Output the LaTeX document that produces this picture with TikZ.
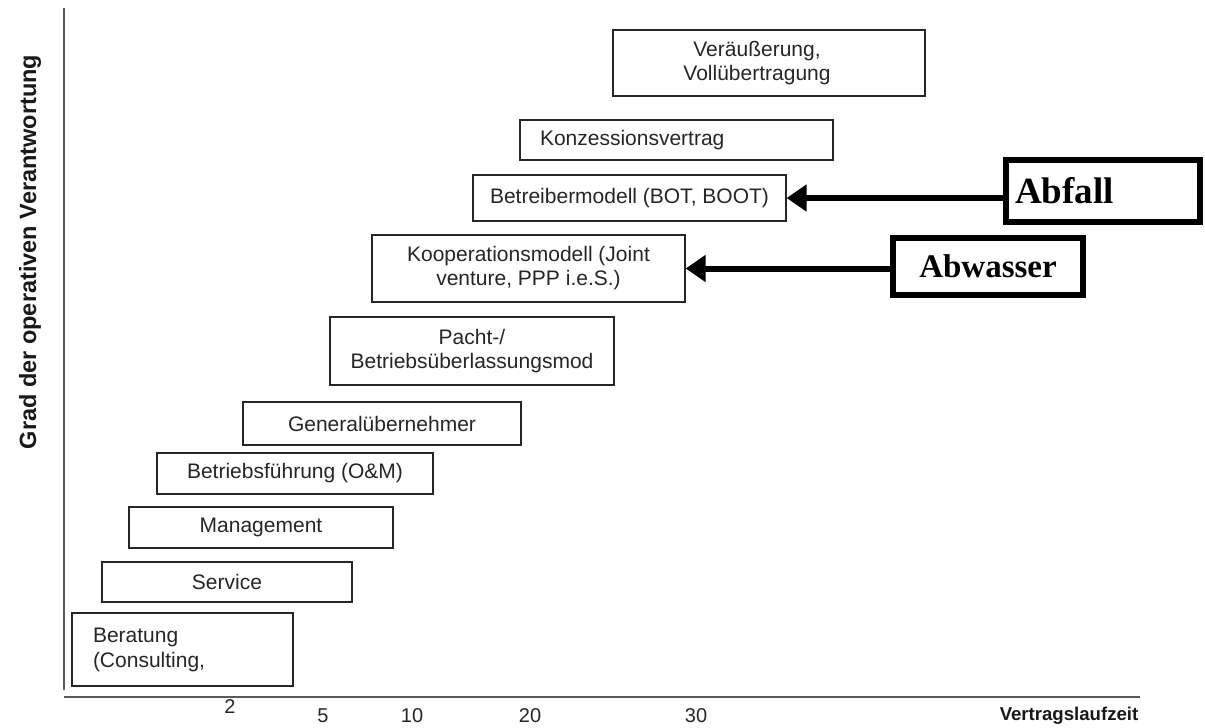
\documentclass[tikz,border=0pt]{standalone}
\usepackage{fontspec}
\setmainfont{Liberation Sans}
\newfontfamily\labelserif{Liberation Serif}
\usetikzlibrary{arrows.meta}

\begin{document}
\begin{tikzpicture}[x=1pt,y=-1pt,
  stage/.style={draw=black!85, line width=1.3pt, inner sep=0pt, text=black!85,
    font=\fontsize{21}{24}\selectfont, align=center},
  sector/.style={draw=black, line width=6pt, inner sep=0pt,
    font=\labelserif\bfseries\fontsize{37}{40}\selectfont},
  pointer/.style={draw=black, line width=6pt, -{Triangle[length=20pt,width=26pt]}},
  axisline/.style={draw=black!65, line width=1.8pt},
  ticklabel/.style={font=\fontsize{20}{24}\selectfont, text=black!85},
  axistitle/.style={font=\bfseries\fontsize{#1}{24}\selectfont, text=black!90},
]
\useasboundingbox[fill=white] (0,0) rectangle (1205,728);

% axes
\coordinate (ytop) at (64,8);
\coordinate (ybot) at (64,690);
\coordinate (xleft) at (64,697);
\coordinate (xright) at (1140,697);
\draw[axisline] (ytop) -- (ybot);
\draw[axisline] (xleft) -- (xright);

\node[axistitle=23.5, rotate=90] (ytitle) at (30,252) {Grad der operativen Verantwortung};
\node[axistitle=18.6] (xtitle) at (1069,716) {Vertragslaufzeit};

\node[ticklabel] (t2) at (230,707) {2};
\node[ticklabel] (t5) at (323,716) {5};
\node[ticklabel] (t10) at (412,716) {10};
\node[ticklabel] (t20) at (530,716) {20};
\node[ticklabel] (t30) at (696,716) {30};

% stages of private responsibility
\node[stage, minimum height=73pt, inner xsep=21pt, text width=179pt, align=left,
  font=\fontsize{21}{25}\selectfont]
  (beratung) at (182.5,649.5) {Beratung\\(Consulting,};
\node[stage, minimum width=250pt, minimum height=40pt] (service) at (227,582) {Service};
\node[stage, minimum width=264pt, minimum height=41pt] (management) at (261,527.5) {Management};
\node[stage, minimum width=276pt, minimum height=41pt] (betriebsf) at (295,473.5) {Betriebsführung (O\&M)};
\node[stage, minimum width=278pt, minimum height=43pt] (general) at (382,423.5) {Generalübernehmer};
\node[stage, minimum width=284pt, minimum height=68pt] (pacht) at (472,351) {Pacht-/\\Betriebsüberlassungsmod};
\node[stage, minimum width=313pt, minimum height=67pt] (koop) at (528.5,268.5) {Kooperationsmodell (Joint\\venture, PPP i.e.S.)};
\node[stage, minimum width=313pt, minimum height=46pt] (betreiber) at (629.5,198) {Betreibermodell (BOT, BOOT)};
\node[stage, minimum height=40pt, inner xsep=20pt, text width=273pt, align=left]
  (konzession) at (676.5,140) {\raisebox{-3pt}{Konzessionsvertrag}};
\node[stage, minimum width=312pt, minimum height=66pt] (verauss) at (769,63)
  {Veräußerung,\hspace*{24pt}\\Vollübertragung\hspace*{24pt}};

% sectors
\node[sector, minimum height=62pt, inner xsep=9pt, text width=176pt, align=left]
  (abfall) at (1103,191) {Abfall};
\node[sector, minimum width=190pt, minimum height=57pt, font=\labelserif\bfseries\fontsize{33}{40}\selectfont]
  (abwasser) at (988,266.5) {Abwasser};

\draw[pointer] (abfall.west |- betreiber.east) -- (betreiber.east);
\draw[pointer] (abwasser.west |- koop.east) -- (koop.east);
\end{tikzpicture}
\end{document}
